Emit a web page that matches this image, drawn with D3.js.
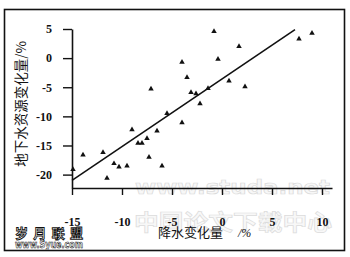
<!DOCTYPE html>
<html>
<head>
<meta charset="utf-8">
<script src="https://cdn.jsdelivr.net/npm/d3@7"></script>
<style>
  body { margin: 0; background: #fff; }
  svg { display: block; }
</style>
</head>
<body>
<div id="container"></div>
<script>
	// 降水变化量 (x) vs 地下水资源变化量 (y), both in %
	var precipChange = [-0.8, 1.7, -0.4, 7.7, 9.0, -4.0, -3.5, 0.7, 2.3, -1.4, -3.1, -2.6, -7.1, -2.2, -4.0,
		-5.5, -9.0, -6.5, -7.5, -8.4, -8.0, -13.9, -11.9, -7.3, -10.8, -10.3, -9.5, -6.0, -14.9, -11.5];
	var groundwaterChange = [4.6, 2.0, -0.2, 3.3, 4.3, -0.7, -3.3, -3.9, -4.9, -5.2, -5.9, -6.1, -5.3, -7.8, -11.1,
		-9.5, -12.3, -12.5, -13.8, -14.6, -14.6, -16.6, -16.2, -17.0, -18.1, -18.7, -18.5, -18.5, -19.1, -20.6];
	var fitX = [-15, 7.3];
	var fitY = [-21.0, 4.9];
	var xTicks = [-15, -10, -5, 0, 5, 10];
	var yTicks = [5, 0, -5, -10, -15, -20];

	var width = 350, height = 257;

	var svg = d3.select("#container").append("svg")
		.attr("width", width).attr("height", height);

	var x = d3.scaleLinear().domain([-15, 11]).range([72, 332]);
	var y = d3.scaleLinear().domain([-22.3, 5]).range([188, 29]);

	// outer frame
	svg.append("rect")
		.attr("x", 4.5).attr("y", 9.5)
		.attr("width", 340).attr("height", 241)
		.attr("fill", "none").attr("stroke", "#111").attr("stroke-width", 1.6);

	// faint watermarks
	svg.append("text")
		.attr("x", 135).attr("y", 194)
		.attr("textLength", 195).attr("lengthAdjust", "spacingAndGlyphs")
		.style("font", "bold 20px 'DejaVu Sans'")
		.attr("fill", "#f7f7f7").attr("stroke", "#dadada").attr("stroke-width", 0.7)
		.text("www.studa.net");
	svg.append("text")
		.attr("x", 134).attr("y", 230)
		.attr("textLength", 198).attr("lengthAdjust", "spacingAndGlyphs")
		.style("font", "bold 22px 'Noto Sans CJK SC'")
		.attr("fill", "#f8f8f8").attr("stroke", "#dcdcdc").attr("stroke-width", 0.7)
		.text("中国论文下载中心");

	var serif = "bold 12px 'Liberation Serif', 'DejaVu Serif', serif";

	var yAxis = svg.append("g")
		.attr("transform", "translate(72,0)")
		.call(d3.axisLeft(y).tickValues(yTicks).tickSize(9).tickSizeOuter(0).tickPadding(11).tickFormat(String));

	var xAxis = svg.append("g")
		.attr("transform", "translate(0,188)")
		.call(d3.axisBottom(x).tickValues(xTicks).tickSize(7).tickSizeOuter(0).tickPadding(22).tickFormat(String));

	[xAxis, yAxis].forEach(function(g) {
		g.select(".domain").attr("stroke", "#111").attr("stroke-width", 1.6);
		g.selectAll(".tick line").attr("stroke", "#111").attr("stroke-width", 1.4);
		g.selectAll(".tick text").style("font", serif).attr("fill", "#111");
	});

	// regression line
	svg.append("line")
		.attr("x1", x(fitX[0])).attr("y1", y(fitY[0]))
		.attr("x2", x(fitX[1])).attr("y2", y(fitY[1]))
		.attr("stroke", "#111").attr("stroke-width", 1.6);

	// points
	var points = precipChange.map(function(d, i) { return { x: d, y: groundwaterChange[i] }; });
	var tri = d3.symbol().type(d3.symbolTriangle).size(13);

	svg.selectAll("path.pt").data(points)
		.join("path")
		.attr("class", "pt")
		.attr("d", tri)
		.attr("fill", "#111")
		.attr("transform", function(d) { return "translate(" + x(d.x) + "," + y(d.y) + ")"; });

	// axis titles
	svg.append("text")
		.attr("transform", "translate(26,104) rotate(-90)")
		.attr("text-anchor", "middle")
		.style("font", "13.5px 'Noto Sans CJK SC'")
		.attr("fill", "#111")
		.text("地下水资源变化量/%");

	svg.append("text")
		.attr("x", 158).attr("y", 237)
		.style("font", "13px 'Noto Sans CJK SC'")
		.attr("fill", "#111")
		.text("降水变化量");
	svg.append("text")
		.attr("x", 238).attr("y", 237)
		.style("font", "italic 12px 'Liberation Serif'")
		.attr("fill", "#111")
		.text("/%");

	// site stamp, bottom left
	svg.append("text")
		.attr("x", 15).attr("y", 238)
		.attr("textLength", 68).attr("lengthAdjust", "spacing")
		.style("font", "bold 13px 'Noto Sans CJK SC'")
		.attr("fill", "#fff").attr("stroke", "#111").attr("stroke-width", 0.9)
		.text("岁月联盟");
	svg.append("text")
		.attr("x", 15).attr("y", 248)
		.attr("textLength", 68).attr("lengthAdjust", "spacingAndGlyphs")
		.style("font", "bold 10px 'DejaVu Sans'")
		.attr("fill", "#fff").attr("stroke", "#111").attr("stroke-width", 0.6)
		.text("www.Syue.com");
</script>
</body>
</html>
